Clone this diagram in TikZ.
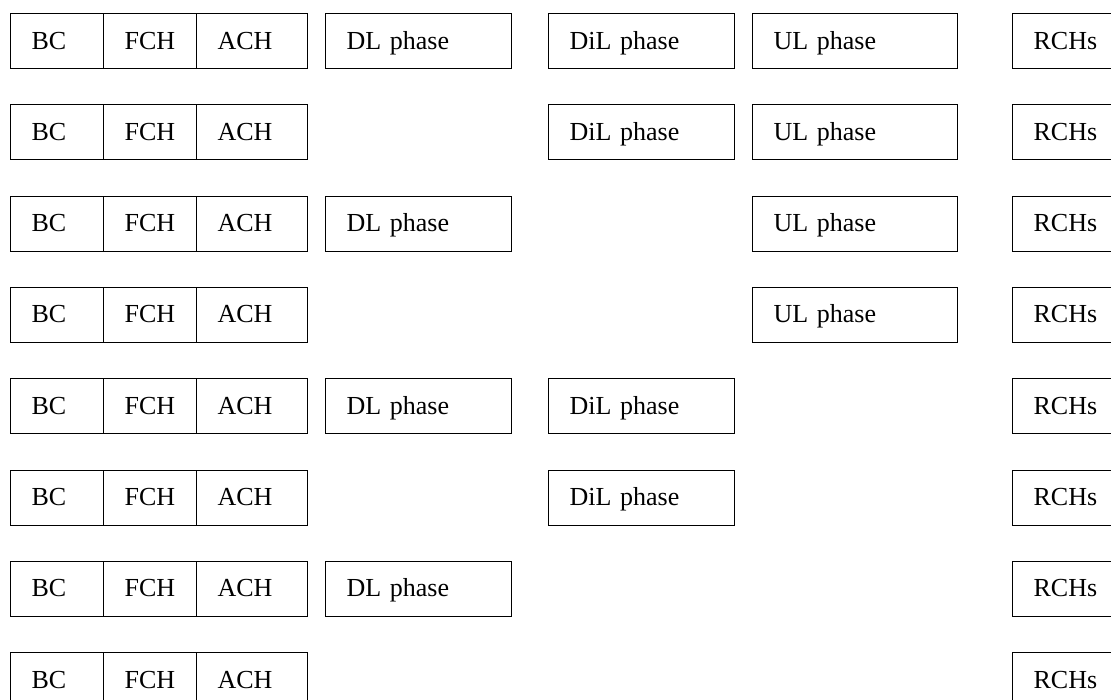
\documentclass[tikz,border=0pt]{standalone}
\usepackage{fontspec}
\setmainfont{Liberation Serif}
\tikzset{
  cell/.style={draw, line width=1.2pt, rectangle, anchor=north west, outer sep=0pt,
    minimum height=55pt, inner xsep=21pt, inner ysep=0pt, align=left,
    text height=20pt, text depth=4pt, font=\fontsize{26}{30}\selectfont},
  wBC/.style={cell, text width=51pt},
  wFCH/.style={cell, text width=51pt},
  wACH/.style={cell, text width=69pt},
  wDL/.style={cell, text width=144pt},
  wUL/.style={cell, text width=163pt},
  wR/.style={cell, text width=78pt}
}
\begin{document}
\begin{tikzpicture}[x=1pt,y=-1pt]
\useasboundingbox (0,0) rectangle (1111,700);
\clip (0,0) rectangle (1111,700);
\foreach \r in {1,...,8}{
  \pgfmathsetmacro{\yy}{13.6+91.3*(\r-1)}
  \node[wBC] (bc\r) at (10.6,\yy) {BC};
  \node[wFCH] (fch\r) at (bc\r.north east) {FCH};
  \node[wACH] (ach\r) at (fch\r.north east) {ACH};
  \node[wR] (rch\r) at (1012.6,\yy) {RCHs};
}
\foreach \r in {1,3,5,7}{
  \pgfmathsetmacro{\yy}{13.6+91.3*(\r-1)}
  \node[wDL] (dl\r) at (325.6,\yy) {DL phase};
}
\foreach \r in {1,2,5,6}{
  \pgfmathsetmacro{\yy}{13.6+91.3*(\r-1)}
  \node[wDL] (dil\r) at (548.6,\yy) {DiL phase};
}
\foreach \r in {1,2,3,4}{
  \pgfmathsetmacro{\yy}{13.6+91.3*(\r-1)}
  \node[wUL] (ul\r) at (752.6,\yy) {UL phase};
}
\end{tikzpicture}
\end{document}
